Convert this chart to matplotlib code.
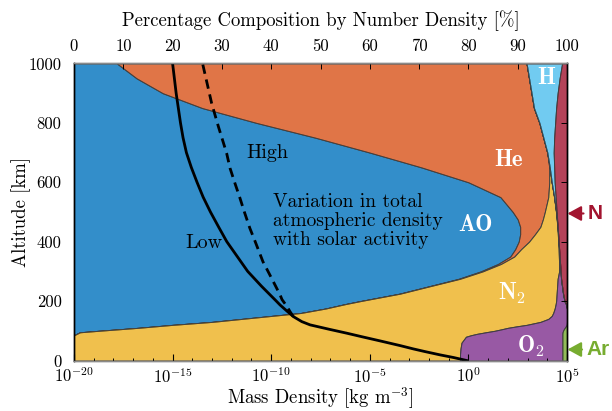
import numpy as np
import matplotlib.pyplot as plt
from matplotlib.ticker import NullFormatter
from matplotlib.colors import to_rgba

plt.rcParams['font.family'] = 'serif'
plt.rcParams['font.serif'] = ['cmr10']
plt.rcParams['mathtext.fontset'] = 'cm'
plt.rcParams['axes.unicode_minus'] = False

# composition by number density [%]
alt = [0, 20, 40, 60, 80, 85, 90, 95, 100, 105, 110, 115, 120, 130, 140, 150, 160,
       175, 190, 200, 225, 250, 275, 300, 325, 350, 375, 400, 425, 450, 475, 500,
       550, 600, 650, 700, 750, 800, 850, 900, 950, 1000]
o_pct = [0, 0, 0, 0, 0, 0, 0.6, 1.2, 5, 9, 13, 16.5, 20, 28, 34, 40, 46,
         51, 55, 58, 66, 72, 78, 82.5, 86, 88.5, 89.5, 90.2, 90.5, 90.5, 90, 89,
         86.5, 80, 70.5, 60, 49, 37, 26, 18, 12.7, 8.7]
he_pct = [0, 0, 0, 0, 0, 0, 0, 0, 0, 0, 0, 0, 0, 0, 0, 0, 0,
          0.05, 0.1, 0.1, 0.15, 0.2, 0.3, 0.4, 0.6, 0.8, 1.2, 2.1, 3.0, 4.1, 5.1, 6.5,
          9.7, 16.4, 25.9, 36, 46.2, 57.4, 67.3, 74.8, 79.6, 83.1]
n2_pct = [78.3, 78.3, 78.4, 78.6, 79.5, 80.5, 81.2, 82.3, 80.3, 77.7, 75, 73.3, 71.8, 66.6, 62.2, 56.9, 51.2,
          46.45, 42.6, 39.7, 31.75, 25.8, 19.8, 15.5, 11.8, 9.05, 7.6, 5.92, 4.64, 3.45, 2.81, 2.27,
          1.18, 0.49, 0.1, 0, 0, 0, 0, 0, 0, 0]
o2_pct = [20.77, 20.77, 20.67, 20.47, 19.57, 18.57, 17.27, 15.6, 13.9, 12.65, 11.55, 9.95, 8.15, 5.4, 3.8, 3.1, 2.8,
          2.5, 2.1, 1.7, 1.3, 1.0, 0.7, 0.3, 0.2, 0.15, 0.1, 0.08, 0.06, 0.05, 0.04, 0.03,
          0.02, 0.01, 0, 0, 0, 0, 0, 0, 0, 0]
ar_pct = [0.93, 0.93, 0.93, 0.93, 0.93, 0.93, 0.93, 0.9, 0.8, 0.65, 0.45, 0.25, 0.05, 0, 0, 0, 0,
          0, 0, 0, 0, 0, 0, 0, 0, 0, 0, 0, 0, 0, 0, 0,
          0, 0, 0, 0, 0, 0, 0, 0, 0, 0]
h_pct = [0, 0, 0, 0, 0, 0, 0, 0, 0, 0, 0, 0, 0, 0, 0, 0, 0,
         0, 0, 0, 0, 0, 0, 0, 0, 0, 0, 0, 0, 0, 0.05, 0.1,
         0.3, 0.6, 0.9, 1.3, 2.2, 3.2, 4.5, 5.3, 6.2, 7.2]
n_pct = [0, 0, 0, 0, 0, 0, 0, 0, 0, 0, 0, 0, 0, 0, 0, 0, 0,
         0, 0.2, 0.5, 0.8, 1.0, 1.2, 1.3, 1.4, 1.5, 1.6, 1.7, 1.8, 1.9, 2.0, 2.1,
         2.3, 2.5, 2.6, 2.7, 2.6, 2.4, 2.2, 1.9, 1.5, 1.0]

colours = ['#0072BD', '#D95319', '#EDB120', '#7E2F8E', '#77AC30', '#4DBEEE', '#A2142F']

# total mass density, log10(kg/m^3)
low_alt = [0, 10, 19, 30, 39, 50, 66, 80, 92, 105, 120, 131, 148, 167, 187, 200, 250,
           300, 350, 400, 450, 500, 550, 600, 650, 700, 750, 800, 900, 1000]
low_logrho = [-0.09, -0.75, -1.44, -2.2, -2.79, -3.45, -4.48, -5.4, -6.17, -7.05, -8.03, -8.45, -8.88,
              -9.21, -9.55, -9.74, -10.49, -11.19, -11.72, -12.25, -12.67, -13.08, -13.45, -13.76,
              -14.05, -14.3, -14.47, -14.6, -14.82, -15.0]
high_alt = [148, 165, 182, 205, 221, 260, 300, 333, 400, 445, 500, 550, 597, 648, 698, 788, 866, 1000]
high_logrho = [-8.88, -9.05, -9.2, -9.45, -9.55, -9.85, -10.16, -10.42, -10.81, -11.08, -11.36,
               -11.6, -11.84, -12.09, -12.26, -12.68, -13.02, -13.48]

fig = plt.figure(figsize=(6.12, 4.11), dpi=100)
ax = fig.add_axes([74 / 612, 50.5 / 411, 493 / 612, 297 / 411])
ax2 = ax.twiny()

# stacked composition
layers = np.array([o_pct, he_pct, n2_pct, o2_pct, ar_pct, h_pct, n_pct])
tops = np.cumsum(layers, axis=0)
bottoms = tops - layers
for lo, hi, c in zip(bottoms, tops, colours):
    ax.fill_betweenx(alt, lo, hi, facecolor=to_rgba(c, 0.8), edgecolor='#404040', linewidth=0.7)

ax.set_xlim(0, 100)
ax.set_ylim(0, 1000)
ax.xaxis.tick_top()
ax.xaxis.set_label_position('top')
ax.set_xticks(range(0, 101, 10))
ax.set_yticks(range(0, 1001, 200))
ax.tick_params(axis='x', direction='in', length=4, width=0.7, pad=7, labelsize=12)
ax.tick_params(axis='y', direction='in', left=False, right=True, labelleft=True,
               length=4, width=0.7, pad=9, labelsize=12)
ax.set_xlabel('Percentage Composition by Number Density [%]', fontsize=13.5, labelpad=9)
ax.set_ylabel('Altitude [km]', fontsize=13.5, labelpad=-2)

# density profiles
ax2.plot(np.power(10.0, low_logrho), low_alt, color='k', lw=2.0)
ax2.plot(np.power(10.0, high_logrho), high_alt, color='k', lw=2.0, ls='--', dashes=(3.4, 2.1))
ax2.set_xscale('log')
ax2.set_xlim(1e-20, 1e5)
ax2.set_ylim(0, 1000)
ax2.xaxis.tick_bottom()
ax2.xaxis.set_label_position('bottom')
majors = [10.0 ** k for k in range(-20, 6, 5)]
ax2.set_xticks(majors)
ax2.set_xticklabels([r'$10^{%d}$' % k for k in range(-20, 6, 5)])
ax2.set_xticks([10.0 ** k for k in range(-20, 6)], minor=True)
ax2.xaxis.set_minor_formatter(NullFormatter())
ax2.tick_params(axis='x', which='major', direction='in', length=5, width=0.8, pad=4, labelsize=12)
ax2.tick_params(axis='x', which='minor', direction='in', length=2.5, width=0.7)
ax2.set_xlabel(r'Mass Density [kg m$^{-3}$]', fontsize=13.5, labelpad=0)

for a in (ax, ax2):
    a.spines['left'].set_color('k')
    a.spines['right'].set_color('k')
    a.spines['top'].set_color('#8a8a8a')
    a.spines['bottom'].set_color('#8a8a8a')
    for s in a.spines.values():
        s.set_linewidth(1.0)

# labels
ax.text(39.2, 697, 'High', fontsize=14.5, ha='center', va='center')
ax.text(26.4, 397, 'Low', fontsize=14.5, ha='center', va='center')
ax.text(40.4, 470, 'Variation in total\natmospheric density\nwith solar activity',
        fontsize=14, ha='left', va='center', linespacing=1.07)

white = dict(color='white', ha='center', va='center', fontsize=16.5)
ax.text(81.5, 455, 'AO', family='cmb10', **white)
ax.text(88.2, 675, 'He', family='cmb10', **white)
ax.text(95.7, 950, 'H', family='cmb10', **white)
ax.text(88.8, 226, r'$\mathbf{N_2}$', **white)
ax.text(92.7, 47, r'$\mathbf{O_2}$', **white)

ax.annotate('N', xy=(100.1, 495), xytext=(104.2, 495), ha='left', va='center',
            color='#A2142F', fontsize=15, fontweight='bold', family='Liberation Sans',
            annotation_clip=False,
            arrowprops=dict(arrowstyle='-|>,head_length=0.55,head_width=0.3',
                            color='#A2142F', lw=1.5, shrinkA=1, shrinkB=0))
ax.annotate('Ar', xy=(100.1, 37), xytext=(103.9, 37), ha='left', va='center',
            color='#77AC30', fontsize=15, fontweight='bold', family='Liberation Sans',
            annotation_clip=False,
            arrowprops=dict(arrowstyle='-|>,head_length=0.55,head_width=0.3',
                            color='#77AC30', lw=1.5, shrinkA=1, shrinkB=0))

fig.savefig('out.png', dpi=100)
